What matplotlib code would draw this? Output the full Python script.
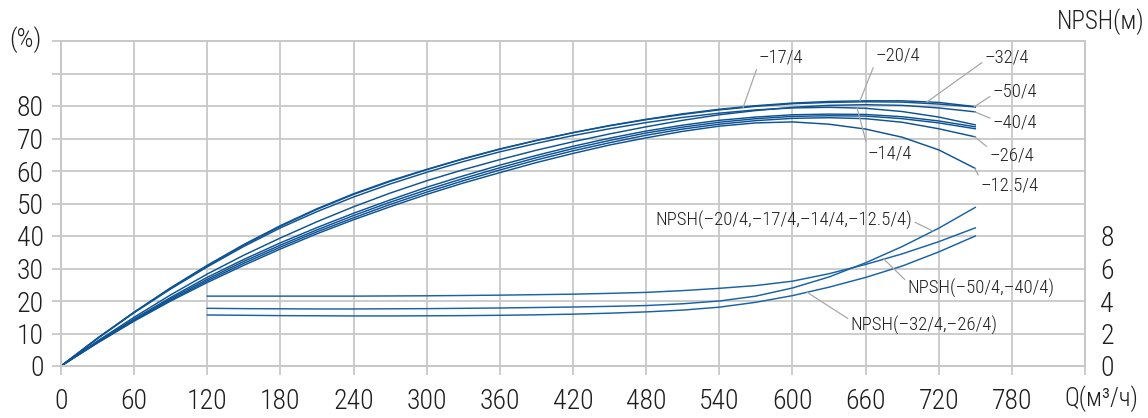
import numpy as np
import matplotlib
matplotlib.use('Agg')
import matplotlib.pyplot as plt
from matplotlib import font_manager

avail = {f.name for f in font_manager.fontManager.ttflist}
fams = [f for f in ['Liberation Sans Narrow', 'DejaVu Sans Condensed', 'Roboto Condensed', 'Roboto']
        if f in avail]
plt.rcParams['font.family'] = fams + ['DejaVu Sans']
plt.rcParams['font.weight'] = 'light'

# ---------------- data ----------------
q_eff = list(range(0, 751, 30))
eff_50 = [0, 8.6, 16.6, 24.1, 31.0, 37.4, 43.2, 48.4, 53.0, 57.0, 60.5, 63.8, 66.8, 69.4,
          71.8, 73.9, 75.8, 77.4, 78.8, 79.9, 80.7, 81.1, 81.3, 81.2, 80.6, 79.7]
eff_32 = [0, 8.5, 16.5, 23.9, 30.8, 37.2, 43.0, 48.2, 52.8, 56.8, 60.4, 63.7, 66.7, 69.4,
          71.8, 74.0, 75.9, 77.6, 79.0, 80.1, 80.9, 81.4, 81.6, 81.6, 81.1, 79.8]
eff_40 = [0, 7.7, 15.0, 21.9, 28.3, 34.1, 39.4, 44.4, 49.0, 53.2, 57.0, 60.4, 63.5, 66.4,
          69.0, 71.4, 73.6, 75.6, 77.3, 78.6, 79.6, 80.2, 80.4, 80.2, 79.4, 78.2]
eff_20 = [0, 8.5, 16.4, 23.7, 30.5, 36.8, 42.5, 47.5, 52.0, 56.0, 59.6, 62.9, 65.9, 68.5,
          70.9, 73.0, 74.9, 76.5, 77.8, 78.8, 79.4, 79.6, 79.3, 78.3, 76.6, 74.2]
eff_17 = [0, 7.5, 14.5, 21.1, 27.3, 32.8, 37.9, 42.6, 47.0, 51.1, 55.0, 58.5, 61.8, 64.8,
          67.6, 70.1, 72.3, 74.1, 75.6, 76.6, 77.3, 77.5, 77.4, 76.7, 75.4, 73.6]
eff_26 = [0, 7.3, 14.2, 20.7, 26.7, 32.2, 37.2, 41.9, 46.3, 50.4, 54.2, 57.7, 61.0, 64.1,
          66.9, 69.4, 71.7, 73.5, 75.0, 76.1, 76.8, 77.0, 76.9, 76.1, 74.8, 73.0]
eff_14 = [0, 7.2, 14.0, 20.3, 26.2, 31.6, 36.6, 41.3, 45.6, 49.7, 53.5, 57.0, 60.3, 63.4,
          66.2, 68.7, 71.0, 72.9, 74.4, 75.5, 76.2, 76.4, 76.1, 75.0, 73.0, 70.5]
eff_125 = [0, 7.1, 13.8, 20.0, 25.7, 31.0, 36.0, 40.7, 45.0, 49.0, 52.8, 56.3, 59.5, 62.6,
           65.4, 68.0, 70.2, 72.2, 73.8, 74.8, 75.1, 74.4, 72.9, 70.4, 66.5, 60.8]

q_npsh = list(range(120, 751, 30))
npsh_50_40 = [4.30, 4.30, 4.30, 4.30, 4.30, 4.31, 4.32, 4.34, 4.36, 4.39, 4.42, 4.47, 4.53,
              4.64, 4.78, 4.95, 5.22, 5.68, 6.25, 6.90, 7.65, 8.50]
npsh_20_125 = [3.55, 3.53, 3.52, 3.51, 3.51, 3.52, 3.53, 3.55, 3.57, 3.60, 3.63, 3.67, 3.72,
               3.83, 4.00, 4.30, 4.80, 5.48, 6.35, 7.35, 8.48, 9.76]
npsh_32_26 = [3.14, 3.12, 3.10, 3.09, 3.08, 3.08, 3.09, 3.10, 3.12, 3.15, 3.19, 3.25, 3.33,
              3.44, 3.62, 3.92, 4.33, 4.85, 5.45, 6.15, 7.02, 8.00]

x_ticks = list(range(0, 841, 60))
x_labels = [str(v) for v in range(0, 781, 60)] + ['']
y_ticks = list(range(0, 101, 10))
y_labels = [str(v) for v in range(0, 81, 10)] + ['', '']
y2_ticks = [0, 2, 4, 6, 8]
y2_labels = ['0', '2', '4', '6', '8']

# ---------------- figure ----------------
W, H = 1148, 418
fig = plt.figure(figsize=(W / 100, H / 100), dpi=100)
ax = fig.add_axes([61 / W, 1 - 366 / H, (1085 - 61) / W, (366 - 41) / H])
ax2 = ax.twinx()

grid_c = '#c8c8c8'
txt_c = '#1e1e1e'
blue = '#0e5394'
blue2 = '#1862a6'
lead_c = '#a8a8a8'

ax.set_xlim(0, 840)
ax.set_ylim(0, 100)
ax2.set_ylim(0, 20)

ax.set_xticks(x_ticks)
ax.set_xticklabels(x_labels)
ax.set_yticks(y_ticks)
ax.set_yticklabels(y_labels)
ax2.set_yticks(y2_ticks)
ax2.set_yticklabels(y2_labels)

ax.grid(True, color=grid_c, lw=1.3)
ax.set_axisbelow(True)
for a in (ax, ax2):
    for s in a.spines.values():
        s.set_color(grid_c)
        s.set_linewidth(1.3)
ax.tick_params(axis='both', which='both', length=6.5, width=1.3, color=grid_c,
               labelsize=20, labelcolor=txt_c)
ax.tick_params(axis='x', pad=9)
ax.tick_params(axis='y', pad=6)
ax2.tick_params(axis='y', length=0, labelsize=20, labelcolor=txt_c, pad=11)

curves = {
    '–50/4': eff_50, '–32/4': eff_32, '–40/4': eff_40, '–20/4': eff_20,
    '–17/4': eff_17, '–26/4': eff_26, '–14/4': eff_14, '–12.5/4': eff_125,
}
for name, vals in curves.items():
    ax.plot(q_eff, vals, color=blue, lw=1.05, solid_joinstyle='round', clip_on=False)

for vals in (npsh_50_40, npsh_20_125, npsh_32_26):
    ax2.plot(q_npsh, vals, color=blue2, lw=1.05, solid_joinstyle='round')

lab_fs = 13.5
def lead(a, text, xt, yt, xq, series_q, series_v, relpos, ha='center'):
    yq = float(np.interp(xq, series_q, series_v))
    a.annotate(text, xy=(xq, yq), xytext=(xt, yt), ha=ha, va='center',
               fontsize=lab_fs, color=txt_c,
               arrowprops=dict(arrowstyle='-', color=lead_c, lw=0.9,
                               shrinkA=0, shrinkB=0, relpos=relpos))

lead(ax, '–17/4', 590.6, 94.8, 559.5, q_eff, eff_50, (0.0, 0.2))
lead(ax, '–20/4', 686.6, 95.4, 655.4, q_eff, eff_32, (0.0, 0.2))
lead(ax, '–14/4', 680.0, 65.5, 653.0, q_eff, eff_20, (0.0, 0.8))
lead(ax, '–32/4', 776.0, 94.8, 710.4, q_eff, eff_32, (0.0, 0.35))
lead(ax, '–50/4', 782.6, 84.6, 749.0, q_eff, eff_50, (0.0, 0.3))
lead(ax, '–40/4', 782.6, 74.8, 749.5, q_eff, eff_40, (0.0, 0.7))
lead(ax, '–26/4', 780.0, 64.9, 749.5, q_eff, eff_14, (0.0, 0.85))
lead(ax, '–12.5/4', 778.5, 55.4, 749.5, q_eff, eff_125, (0.0, 0.8))

lead(ax2, 'NPSH(–20/4,–17/4,–14/4,–12.5/4)', 593.0, 8.98, 715.3, q_npsh, npsh_20_125, (1.0, 0.45))
lead(ax2, 'NPSH(–50/4,–40/4)', 754.7, 4.8, 675.1, q_npsh, npsh_50_40, (0.0, 0.8))
lead(ax2, 'NPSH(–32/4,–26/4)', 708.0, 2.52, 612.0, q_npsh, npsh_32_26, (0.0, 0.75))

fig.text(25.5 / W, 1 - 39.5 / H, '(%)', ha='center', va='center', fontsize=19, color=txt_c)
fig.text(1101 / W, 1 - 22 / H, 'NPSH(м)', ha='center', va='center', fontsize=18, color=txt_c)
fig.text(1101 / W, 1 - 399 / H, 'Q(м³/ч)', ha='center', va='center', fontsize=18, color=txt_c)

fig.savefig('out.png', dpi=100)
